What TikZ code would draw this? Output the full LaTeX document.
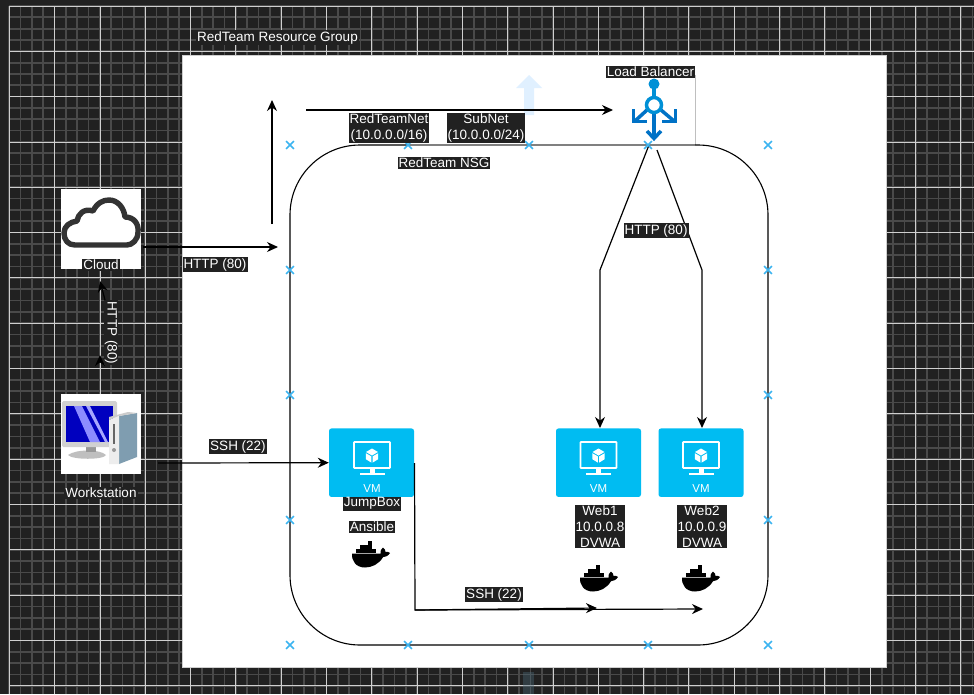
\documentclass[tikz,border=0pt]{standalone}
\usepackage{fontspec}
\setmainfont{Liberation Sans}
\usetikzlibrary{arrows.meta}
\definecolor{bgdark}{HTML}{212121}
\definecolor{gridminor}{HTML}{4A4A4A}
\definecolor{gridmajor}{HTML}{CFCFCF}
\definecolor{vmblue}{HTML}{00BCF2}
\definecolor{crossblue}{HTML}{3CB4F0}
\definecolor{lbdark}{HTML}{0072C6}
\definecolor{lblight}{HTML}{0090D6}
\definecolor{towerside}{HTML}{7F9DB0}
\tikzset{
  lbl/.style={fill=bgdark,text=white,font=\fontsize{13.5}{15.8}\selectfont,inner xsep=1pt,inner ysep=1pt,align=center,yshift=-0.7pt},
  conn/.style={draw=black,line width=1.2pt},
  arr/.style={conn,-{Stealth[length=11pt,width=10pt]}},
  vmbox/.style={fill=vmblue,draw=none,rounded corners=2.5pt,minimum width=85pt,minimum height=68.5pt,inner sep=0pt},
  iconbox/.style={fill=white,draw=none,minimum width=80pt,minimum height=80pt,inner sep=0pt},
  pics/crossmark/.style={code={
    \draw[crossblue,line width=1.5pt] (-3.9,-3.9)--(3.9,3.9) (-3.9,3.9)--(3.9,-3.9);}},
  pics/vmicon/.style={code={
    \draw[white,line width=1.6pt,rounded corners=0.5pt] (-18,-21)rectangle(18,5);
    \fill[white] (-2.5,5)rectangle(2.5,11);
    \fill[white] (-12.5,10)rectangle(12.5,12);
    \fill[white] (0,-14.5)--(6,-11)--(0,-7.5)--(-6,-11)--cycle;
    \fill[white] (-6.2,-9.8)--(-0.6,-6.6)--(-0.6,-0.4)--(-6.2,-3.8)--cycle;
    \fill[white] (6.2,-9.8)--(0.6,-6.6)--(0.6,-0.4)--(6.2,-3.8)--cycle;
    \node[text=white,font=\fontsize{11.5}{13}\selectfont,inner sep=0pt] at (0,25.5) {VM};}},
  pics/whale/.style={code={
    \fill[black] (0,13.5) -- (28.5,13.5) .. controls (28,11) and (29,9) .. (31,7.5)
      .. controls (33,9) and (33.5,10.5) .. (33.5,12) .. controls (35,11.5) and (37,11.7) .. (38,13)
      .. controls (36,16) and (33.5,17) .. (31,17.2) .. controls (27,24) and (20,27.5) .. (13,27.5)
      .. controls (4,27.5) and (-0.5,21) .. (0,13.5) -- cycle;
    \foreach \qx in {4,8,12,16,20}{\fill[black] (\qx,9.4) rectangle ++(3.5,3.5);}
    \foreach \qx in {8,12,16}{\fill[black] (\qx,5.4) rectangle ++(3.5,3.5);}
    \fill[black] (16,1.0) rectangle ++(3.5,3.9);}}
}
\begin{document}
\begin{tikzpicture}[x=1pt,y=-1pt]
\useasboundingbox (0,0) rectangle (974,694);
\fill[bgdark] (0,0) rectangle (974,694);
% grid
\foreach \k in {0,...,85}{
  \draw[gridminor,line width=1.7pt] ({9.3+11.33*\k},6)--({9.3+11.33*\k},694);
}
\foreach \k in {0,...,61}{
  \draw[gridminor,line width=1.7pt] (9.3,{6+11.33*\k})--(974,{6+11.33*\k});
}
\foreach \k in {0,...,21}{
  \draw[gridmajor,line width=0.8pt] ({9.3+45.3*\k},6)--({9.3+45.3*\k},694);
}
\foreach \k in {0,...,15}{
  \draw[gridmajor,line width=0.8pt] (9.3,{6+45.3*\k})--(974,{6+45.3*\k});
}
% canvas
\fill[white] (182,55) rectangle (886,667);
\draw[gridmajor,line width=0.8pt] (182,55) rectangle (886,667);
% ghost arrows
\fill[blue!50!cyan!12] (524,115)--(534,115)--(534,88)--(542,88)--(529,75)--(516,88)--(524,88)--cycle;
\fill[cyan!40!black,opacity=.4] (523,672) rectangle (534,694);
% NSG outline
\draw[lightgray,line width=.6pt] (695,75)--(695,145);
\draw[black,line width=1.1pt,rounded corners=70pt] (290,145) rectangle (768,645);
\draw[gray,line width=1.6pt] (408,145)--(695,145);
% icons and VM boxes
\node[iconbox] (cloud) at (101,229) {};
\node[iconbox] (workstation) at (101,434) {};
\node[vmbox] (jump) at (371.5,462.7) {};
\node[vmbox] (web1) at (598.5,462.7) {};
\node[vmbox] (web2) at (701,462.7) {};
\pic at (372,463) {vmicon};
\pic at (598.5,463) {vmicon};
\pic at (701,463) {vmicon};
\pic at (352,540) {whale};
\pic at (580,564) {whale};
\pic at (682,564) {whale};
% cloud glyph
\draw[black!80,line width=5.4pt,line join=round,fill=white]
  (75,245) .. controls (68,245) and (64,240) .. (64,233)
  .. controls (64,226) and (70,222) .. (77,221)
  .. controls (78,214) and (84,208) .. (93,211)
  .. controls (97,203) and (103,200) .. (109,200)
  .. controls (118,200) and (124,208) .. (125,217)
  .. controls (134,217) and (139,224) .. (138,232)
  .. controls (138,240) and (132,245) .. (127,245) -- cycle;
% workstation glyph
\fill[black!25] (68,455) .. controls (76,449) and (100,449) .. (106,455) .. controls (104,460) and (72,460) .. (68,455) -- cycle;
\fill[black!40] (86,446) rectangle (96,452);
\fill[black!18,rounded corners=1.5pt] (62,401) rectangle (117,447);
\fill[blue!75!black] (66,406) rectangle (113,442);
\fill[blue!45!white] (74,406)--(82,406)--(100,442)--(90,442)--cycle;
\fill[blue!35!white] (86,406)--(90,406)--(108,442)--(105,442)--cycle;
\fill[towerside] (119,416)--(137,413)--(137,457)--(119,464)--cycle;
\fill[black!20] (109,420)--(119,416)--(137,413)--(128,412)--(109,417)--cycle;
\fill[black!7] (109,420)--(119,416)--(119,464)--(109,464)--cycle;
\fill[black!60] (113,424) rectangle (114.6,444);
\fill[black!40] (114,450) circle (2);
% load balancer glyph
\node[circle,fill=lblight,inner sep=0pt,minimum size=11pt] (lbtop) at (654,84) {};
\draw[lblight,line width=3.5pt] (654,84)--(654,100);
\draw[lbdark,line width=3.5pt] (654,110)--(654,138);
\draw[lbdark,line width=3.5pt,line join=miter] (647,131)--(654,138.5)--(661,131);
\draw[lbdark,line width=3.5pt] (647,110)--(635,121);
\draw[lbdark,line width=3.5pt] (661,110)--(674,121);
\draw[lbdark,line width=3.5pt] (633.5,109)--(633.5,121.5)--(647,121.5);
\draw[lbdark,line width=3.5pt] (675.5,109)--(675.5,121.5)--(662,121.5);
\node[circle,draw=lblight,line width=3.5pt,fill=white,inner sep=0pt,minimum size=15pt] (lb) at (654,105) {};
% free connector ends
\coordinate (cloudout) at (143,247);
\coordinate (cloudend) at (278,247);
\coordinate (upstart) at (272,224);
\coordinate (upend) at (272,100);
\coordinate (netstart) at (306,110);
\coordinate (netend) at (613,110);
\coordinate (wsout) at (158,463);
\coordinate (jumpout) at (414.5,463);
\coordinate (jumpdown) at (415,610);
\coordinate (web1mid) at (597,608);
\coordinate (web2mid) at (703,609);
\coordinate (lbleft) at (649,145);
\coordinate (lbright) at (657,150);
\coordinate (bendl) at (600,270);
\coordinate (bendr) at (702,270);
\coordinate (web1in) at (600,428);
\coordinate (web2in) at (702,428);
\coordinate (wsup) at (100,360);
\coordinate (wsupb) at (100,355);
\coordinate (cloudin) at (105,300);
\coordinate (cloudtip) at (100,281);
% connectors
\draw[arr] (cloudout)--(cloudend);
\draw[arr] (upstart)--(upend);
\draw[arr] (netstart)--(netend);
\draw[arr] (wsout)--(jump.west);
\draw[arr] (jumpout)--(jumpdown)--(web1mid);
\draw[arr] (jumpdown)--(web2mid);
\draw[arr] (lbleft)--(bendl)--(web1in);
\draw[arr] (lbright)--(bendr)--(web2in);
\draw[arr] (cloudin)--(cloudtip);
\draw[arr] (wsup)--(wsupb);
% crosses
\foreach \qy in {145,270,395,520,645}{
  \pic at (290,\qy) {crossmark};
  \pic at (768,\qy) {crossmark};
}
\foreach \qx in {408,529,648}{
  \pic at (\qx,145) {crossmark};
  \pic at (\qx,645) {crossmark};
}
% labels
\node[lbl] (title) at (277.5,37) {RedTeam Resource Group};
\node[lbl] (lbllb) at (650.5,71) {Load Balancer};
\node[lbl] (lblnet) at (389,127.5) {RedTeamNet\\(10.0.0.0/16)};
\node[lbl] (lblsub) at (486,127.5) {SubNet\\(10.0.0.0/24)};
\node[lbl] (lblnsg) at (444,162) {RedTeam NSG};
\node[lbl] (lblhttpa) at (656,230) {HTTP (80)};
\node[lbl] (lblhttpb) at (215,264) {HTTP (80)};
\node[lbl] (lblcloud) at (101,264) {Cloud};
\node[lbl,rotate=-90] (lblhttpc) at (111,332) {HTTP (80)};
\node[lbl] (lblssha) at (238,446) {SSH (22)};
\node[lbl] (lblws) at (101,492) {Workstation};
\node[lbl] (lbljump) at (372,503) {JumpBox};
\node[lbl] (lblans) at (372,526) {Ansible};
\node[lbl] (lblw1) at (600,526) {Web1\\10.0.0.8\\DVWA};
\node[lbl] (lblw2) at (702,526) {Web2\\10.0.0.9\\DVWA};
\node[lbl] (lblsshb) at (494,594) {SSH (22)};
\end{tikzpicture}
\end{document}
